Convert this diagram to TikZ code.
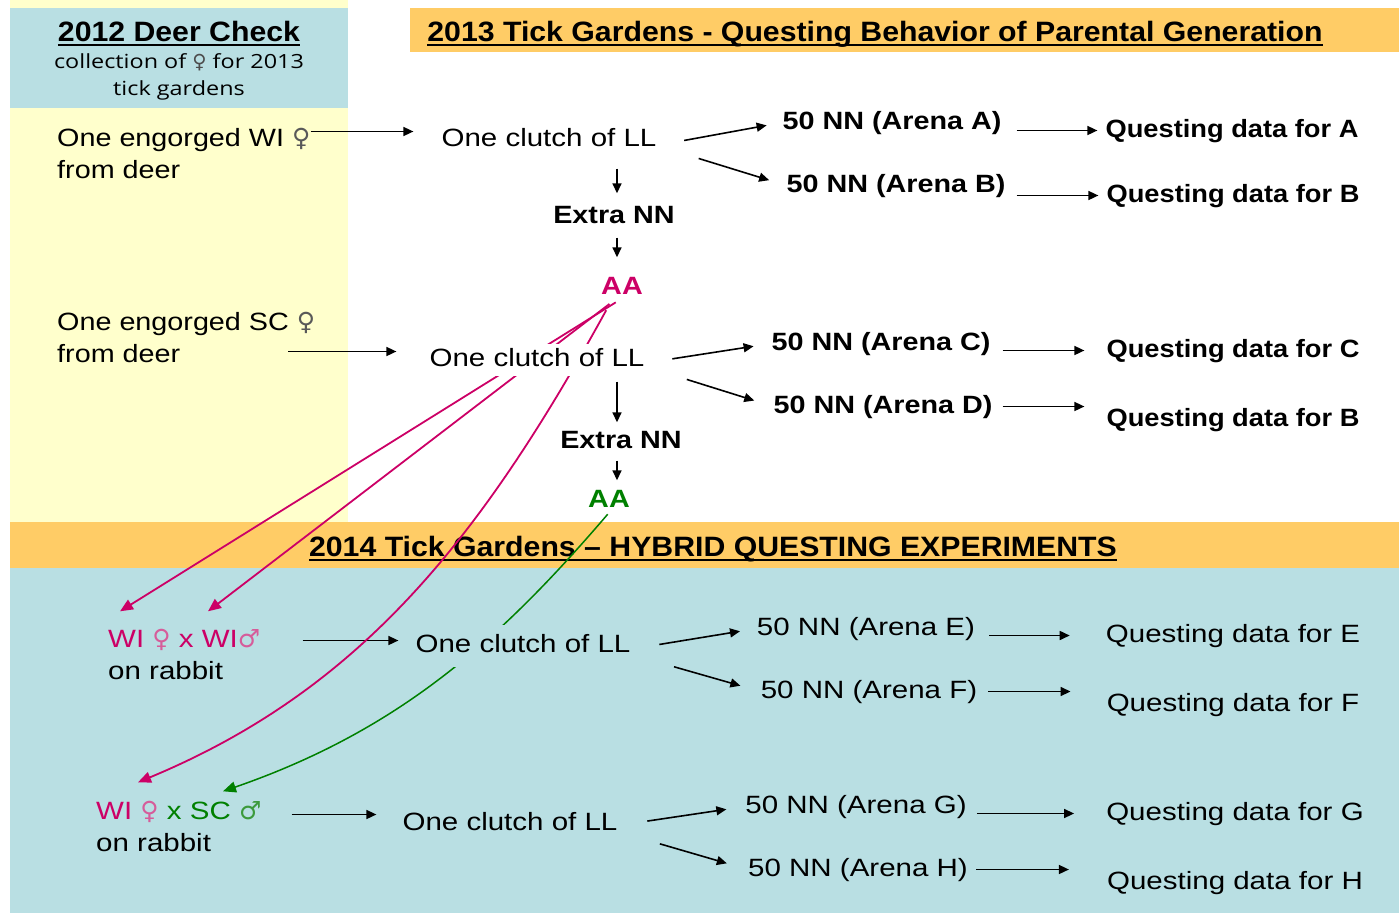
\documentclass[tikz,border=0pt]{standalone}
\usepackage{fontspec}
\setmainfont{Liberation Sans}
\newfontfamily\rf[FakeStretch=1.18]{Liberation Sans}
\newfontfamily\lf[FakeStretch=1.15]{Liberation Sans}
\newfontfamily\af[FakeStretch=1.15]{Liberation Sans}
\newfontfamily\qf[FakeStretch=1.09]{Liberation Sans}
\newfontfamily\tf[FakeStretch=1.08]{Liberation Sans}
\newfontfamily\of[FakeStretch=1.2]{Open Sans}
\newfontfamily\symf{DejaVu Sans}
\usetikzlibrary{arrows.meta}
\definecolor{ylw}{HTML}{FFFFCC}
\definecolor{bluebg}{HTML}{B9DFE3}
\definecolor{orng}{HTML}{FFCC66}
\definecolor{mag}{HTML}{CC0066}
\definecolor{magl}{HTML}{D65C9A}
\definecolor{grn}{HTML}{008000}
\definecolor{grnl}{HTML}{3C9A3C}
\newcommand{\fem}{{\symf\char"2640}}
\newcommand{\mal}{{\symf\char"2642}}
\pgfdeclarelayer{bg}
\pgfdeclarelayer{front}
\pgfsetlayers{bg,main,front}
\begin{document}
\begin{tikzpicture}[x=1pt,y=-1pt,
  every node/.style={inner sep=0pt},
  basetxt/.style={text height=18.5pt, text depth=5.5pt, anchor=base},
  reg/.style={basetxt, font=\fontsize{25}{29}\selectfont\rf},
  lft/.style={basetxt, anchor=base west, font=\fontsize{25}{29}\selectfont\lf},
  lftb/.style={basetxt, anchor=base west, font=\fontsize{25}{29}\selectfont\rf},
  arena/.style={basetxt, font=\fontsize{25}{29}\selectfont\af\bfseries},
  quest/.style={basetxt, font=\fontsize{25}{29}\selectfont\qf\bfseries},
  extra/.style={basetxt, font=\fontsize{25}{29}\selectfont\af\bfseries},
  ttl/.style={anchor=base, text height=21pt, text depth=6pt, font=\fontsize{28}{32}\selectfont\tf\bfseries},
  subt/.style={anchor=base, text height=15pt, text depth=5pt, font=\fontsize{19.5}{23}\selectfont\of},
  arr/.style={line width=1.6pt, -{Triangle[length=10pt,width=9pt]}},
  marr/.style={draw=mag, line width=1.8pt, -{Triangle[length=13pt,width=11pt]}},
  garr/.style={draw=grn, line width=1.5pt, -{Triangle[length=13pt,width=11pt]}},
  ul/.style={line width=2pt},
]
\begin{pgfonlayer}{bg}
\fill[ylw] (10,0) rectangle (348,522);
\fill[bluebg] (10,8) rectangle (348,108);
\fill[orng] (410,8) rectangle (1399,52);
\fill[orng] (10,522) rectangle (1399,568);
\fill[bluebg] (10,568) rectangle (1399,913);
\end{pgfonlayer}
\useasboundingbox (0,0) rectangle (1399,913);

% titles
\node[ttl] (dc) at (179,41) {2012 Deer Check};
\node[subt] (col1) at (179,68) {collection of {\color{black!70}\fem} for 2013};
\node[subt] (col2) at (179,95) {tick gardens};
\node[ttl] (tb1) at (875,41) {2013 Tick Gardens - Questing Behavior of Parental Generation};
\node[ttl] (tb2) at (713,556) {2014 Tick Gardens – HYBRID QUESTING EXPERIMENTS};
\foreach \n in {dc,tb1,tb2}
  \draw[ul] ([yshift=-3.5pt]\n.base west) -- ([yshift=-3.5pt]\n.base east);

% 2013 WI block
\node[lft] (wi1) at (57,146) {One engorged WI {\color{black!65}\fem}};
\node[lft] (wi2) at (57,178) {from deer};
\node[reg] (c1) at (549,146) {One clutch of LL};
\node[arena] (na) at (892,129) {50 NN (Arena A)};
\node[arena] (nb) at (896,192) {50 NN (Arena B)};
\node[quest] (qa) at (1232,137) {Questing data for A};
\node[quest] (qb) at (1233,202) {Questing data for B};
\node[extra] (e1) at (614,223) {Extra NN};
\node[extra, text=mag] (aa1) at (622,294) {AA};

% 2013 SC block
\node[lft] (sc1) at (57,330) {One engorged SC {\color{black!65}\fem}};
\node[lft] (sc2) at (57,362) {from deer};
\begin{pgfonlayer}{front}
\node[reg, fill=white, inner xsep=4pt, inner ysep=4pt] (c2) at (537,366) {One clutch of LL};
\node[reg, fill=bluebg, inner xsep=4pt, inner ysep=9pt] (c3) at (523,652) {One clutch of LL};
\end{pgfonlayer}
\node[arena] (nc) at (881,350) {50 NN (Arena C)};
\node[arena] (nd) at (883,413) {50 NN (Arena D)};
\node[quest] (qc) at (1233,357) {Questing data for C};
\node[quest] (qd) at (1233,426) {Questing data for B};
\node[extra] (e2) at (621,448) {Extra NN};
\node[extra, text=grn] (aa2) at (609,507) {AA};

% 2014 block
\node[lftb] (wxw) at (108,647) {\color{mag}WI {\color{magl}\fem} x WI{\color{magl}\mal}};
\node[lftb] (rab1) at (108,679) {on rabbit};
\node[reg] (ne) at (866,635) {50 NN (Arena E)};
\node[reg] (nf) at (869,698) {50 NN (Arena F)};
\node[reg] (qe) at (1233,642) {Questing data for E};
\node[reg] (qf) at (1233,711) {Questing data for F};

\node[lftb] (wxs) at (96,819) {{\color{mag}WI {\color{magl}\fem}} {\color{grn}x SC {\color{grnl}\mal}}};
\node[lftb] (rab2) at (96,851) {on rabbit};
\node[reg] (c4) at (510,830) {One clutch of LL};
\node[reg] (ng) at (856,813) {50 NN (Arena G)};
\node[reg] (nh) at (858,876) {50 NN (Arena H)};
\node[reg] (qg) at (1235,820) {Questing data for G};
\node[reg] (qh) at (1235,889) {Questing data for H};

% black connectors, top
\draw[arr, shorten >=28pt] ([yshift=8pt]wi1.east) -- ([yshift=8pt]wi1.east -| c1.west);
\draw[arr, shorten <=28pt, shorten >=16pt] ([yshift=-6pt]c1.east) -- (na.west);
\draw[arr, shorten <=44pt, shorten >=18pt] ([yshift=-6pt]c1.east) -- (nb.west);
\draw[arr, shorten <=15pt, shorten >=8pt] (na.east |- qa.west) -- (qa.west);
\draw[arr, shorten <=11pt, shorten >=8pt] (nb.east |- qb.west) -- (qb.west);
\draw[arr, shorten <=17pt, shorten >=11pt] ([xshift=3pt]e1.north |- c1.south) -- ([xshift=3pt]e1.north);
\draw[arr, shorten <=9pt, shorten >=18pt] ([xshift=3pt]e1.south) -- ([xshift=3pt]e1.south |- aa1.north);

\draw[arr, shorten <=108pt, shorten >=29pt] ([yshift=4pt]sc2.east) -- ([yshift=4pt]sc2.east -| c2.west);
\draw[arr, shorten <=24pt, shorten >=18pt] ([yshift=-3pt]c2.east) -- (nc.west);
\draw[arr, shorten <=40pt, shorten >=20pt] ([yshift=-8pt]c2.east) -- (nd.west);
\draw[arr, shorten <=12pt, shorten >=22pt] (nc.east |- qc.west) -- (qc.west);
\draw[arr, shorten <=10pt, shorten >=22pt] (nd.east) -- (nd.east -| qd.west);
\draw[arr, shorten <=6pt, shorten >=7pt] ([xshift=-4pt]e2.north |- c2.south) -- ([xshift=-4pt]e2.north);
\draw[arr, shorten <=7pt, shorten >=8pt] ([xshift=-4pt]e2.south) -- ([xshift=-4pt]e2.south |- aa2.north);

% black connectors, bottom
\draw[arr, shorten <=42pt, shorten >=13pt] (wxw.east) -- (wxw.east -| c3.west);
\draw[arr, shorten <=25pt, shorten >=17pt] ([yshift=-3pt]c3.east) -- (ne.west);
\draw[arr, shorten <=41pt, shorten >=21pt] ([yshift=-10pt]c3.east) -- (nf.west);
\draw[arr, shorten <=14pt, shorten >=36pt] (ne.east |- qe.west) -- (qe.west);
\draw[arr, shorten <=11pt, shorten >=36pt] (nf.east) -- (nf.east -| qf.west);

\draw[arr, shorten <=30pt, shorten >=26pt] ([yshift=-2pt]wxs.east) -- ([yshift=-2pt]wxs.east -| c4.west);
\draw[arr, shorten <=30pt, shorten >=19pt] ([yshift=-2pt]c4.east) -- (ng.west);
\draw[arr, shorten <=44pt, shorten >=22pt] ([yshift=-8pt]c4.east) -- (nh.west);
\draw[arr, shorten <=10pt, shorten >=32pt] (ng.east |- qg.west) -- (qg.west);
\draw[arr, shorten <=8pt, shorten >=38pt] (nh.east) -- (nh.east -| qh.west);

% colored connectors
\draw[marr, shorten <=5pt] ([xshift=-2pt]aa1.south) -- ([xshift=12pt,yshift=17pt]wxw.north west);
\draw[marr, shorten <=7pt] ([xshift=-7pt]aa1.south) -- ([xshift=100pt,yshift=17pt]wxw.north west);
\draw[marr, shorten <=12pt] ([xshift=-10pt]aa1.south) .. controls (480,540) and (360,690) .. ([xshift=42pt,yshift=18pt]wxs.north west);
\draw[garr, shorten <=2pt] (aa2.south) .. controls (500,640) and (400,730) .. ([xshift=127pt,yshift=9pt]wxs.north west);
\end{tikzpicture}
\end{document}
